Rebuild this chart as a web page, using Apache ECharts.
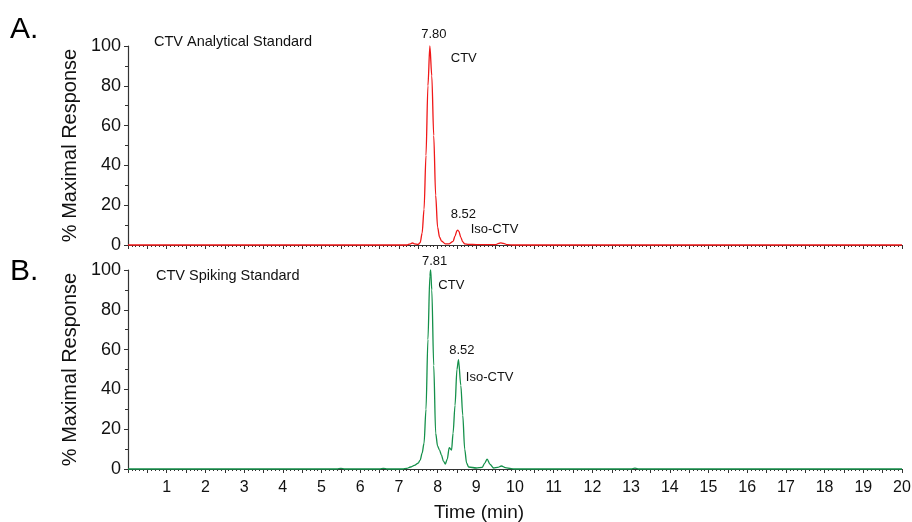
<!DOCTYPE html>
<html>
<head>
<meta charset="utf-8">
<script src="https://cdn.jsdelivr.net/npm/echarts@6/dist/echarts.min.js"></script>
<style>
  html, body { margin: 0; padding: 0; background: #fff; }
  #chart { width: 912px; height: 522px; }
</style>
</head>
<body>
<div id="chart"></div>
<script>
// 色谱数据 [time (min), % response]
var analyticalTrace = [
  [0, 0], [7.2, 0], [7.3, 0.6], [7.35, 1.0], [7.4, 0.6], [7.5, 0.3], [7.55, 1.2],
  [7.6, 6], [7.65, 18], [7.7, 45], [7.75, 80], [7.8, 100], [7.85, 85], [7.9, 55],
  [7.95, 25], [8.0, 9], [8.05, 4], [8.1, 2], [8.2, 0.6], [8.3, 0.6], [8.4, 1.8],
  [8.45, 4.5], [8.5, 7.2], [8.52, 7.5], [8.55, 6.8], [8.6, 3.8], [8.65, 1.6],
  [8.7, 0.6], [8.8, 0.3], [9.0, 0.2], [9.5, 0.2], [9.58, 0.8], [9.63, 1.1],
  [9.7, 0.8], [9.8, 0.2], [10, 0], [20, 0]
];
var spikingTrace = [
  [0, 0], [5.4, 0], [5.5, 0.3], [5.6, 0], [6.5, 0], [6.6, 0.3], [6.7, 0], [7.1, 0],
  [7.2, 0.3], [7.3, 1], [7.4, 1.8], [7.5, 3], [7.55, 4.5], [7.6, 8], [7.65, 13],
  [7.7, 30], [7.75, 65], [7.8, 97], [7.82, 100], [7.85, 90], [7.9, 52], [7.95, 18],
  [8.0, 11.5], [8.05, 9.5], [8.1, 7], [8.15, 4], [8.2, 2.5], [8.25, 5], [8.3, 10.7],
  [8.36, 9.5], [8.4, 18], [8.45, 32], [8.5, 50], [8.54, 55], [8.6, 42], [8.65, 27],
  [8.7, 10], [8.75, 3], [8.8, 1], [9.0, 0.5], [9.15, 0.8], [9.22, 3], [9.28, 5],
  [9.35, 2.5], [9.45, 0.5], [9.55, 0.8], [9.65, 1.5], [9.75, 0.7], [9.9, 0.2],
  [10, 0], [13.0, 0], [13.1, 0.4], [13.2, 0], [20, 0]
];
// 峰顶保留时间 [time, %, text]
var analyticalApex = [7.80, 100, '7.80'];
var spikingApex = [7.82, 100, '7.81'];
// 注释 [time, %, text]
var analyticalNotes = [[8.34, 94, 'CTV'], [8.34, 15.4, '8.52'], [8.855, 7.9, 'Iso-CTV']];
var spikingNotes = [[8.02, 92.5, 'CTV'], [8.30, 59.8, '8.52'], [8.73, 45.9, 'Iso-CTV']];
var yTicks = [0, 20, 40, 60, 80, 100];
var xRange = [0, 20];

var FONT = 'Liberation Sans, Arial, sans-serif';
var AXIS_COLOR = '#333';

function xAxis(gridIndex, showLabels) {
  return {
    type: 'value', gridIndex: gridIndex, min: xRange[0], max: xRange[1], interval: 0.5,
    axisLine: { show: true, onZero: false, lineStyle: { color: AXIS_COLOR, width: 1 } },
    axisTick: { show: true, length: 4, lineStyle: { color: AXIS_COLOR } },
    minorTick: { show: true, splitNumber: 5, length: 2, lineStyle: { color: AXIS_COLOR } },
    splitLine: { show: false },
    axisLabel: {
      show: showLabels, color: '#111', fontSize: 16, fontFamily: FONT, margin: 11,
      formatter: function (v) { return (v % 1 === 0 && v > 0) ? String(v) : ''; }
    },
    name: showLabels ? 'Time (min)' : '', nameLocation: 'middle', nameGap: 34,
    nameTextStyle: { color: '#111', fontSize: 19, fontFamily: FONT, padding: [0, 72, 0, 0] }
  };
}

function yAxis(gridIndex) {
  return {
    type: 'value', gridIndex: gridIndex, min: yTicks[0], max: yTicks[yTicks.length - 1], interval: 20,
    axisLine: { show: true, lineStyle: { color: AXIS_COLOR, width: 1.2 } },
    axisTick: { show: true, length: 4, lineStyle: { color: AXIS_COLOR } },
    minorTick: { show: true, splitNumber: 2, length: 3, lineStyle: { color: AXIS_COLOR } },
    splitLine: { show: false },
    axisLabel: { color: '#111', fontSize: 18, fontFamily: FONT, margin: 7 },
    name: '% Maximal Response', nameLocation: 'middle', nameGap: 44,
    nameTextStyle: { color: '#111', fontSize: 20, fontFamily: FONT }
  };
}

function notes(list, apex, apexDist) {
  var label = { color: '#111', fontSize: 13, fontFamily: FONT };
  var data = list.map(function (n) {
    return {
      coord: [n[0], n[1]],
      label: Object.assign({ show: true, position: 'right', distance: 0, formatter: n[2] }, label)
    };
  });
  data.push({
    coord: [apex[0], apex[1]],
    label: Object.assign({ show: true, position: 'top', distance: apexDist, offset: [4, 0], formatter: apex[2] }, label)
  });
  return { symbol: 'rect', symbolSize: 0, silent: true, data: data };
}

function trace(data, idx, color, noteList, apex, apexDist) {
  return {
    type: 'line', xAxisIndex: idx, yAxisIndex: idx, data: data,
    showSymbol: false, smooth: 0.3, smoothMonotone: 'x', clip: false,
    lineStyle: { color: color, width: 1.3 }, itemStyle: { color: color },
    markPoint: notes(noteList, apex, apexDist)
  };
}

var chart = echarts.init(document.getElementById('chart'), null, { renderer: 'canvas' });
chart.setOption({
  animation: false,
  backgroundColor: '#fff',
  grid: [
    { left: 128, right: 10, top: 46, height: 199, outerBoundsMode: 'none', containLabel: false },
    { left: 128, right: 10, top: 270, height: 199, outerBoundsMode: 'none', containLabel: false }
  ],
  title: [
    { text: 'A.', left: 5, top: 10, textStyle: { fontSize: 30, fontWeight: 'normal', color: '#000', fontFamily: FONT } },
    { text: 'B.', left: 5, top: 252, textStyle: { fontSize: 30, fontWeight: 'normal', color: '#000', fontFamily: FONT } },
    { text: 'CTV Analytical Standard', left: 149, top: 29, textStyle: { fontSize: 14.5, fontWeight: 'normal', color: '#111', fontFamily: FONT } },
    { text: 'CTV Spiking Standard', left: 151, top: 263, textStyle: { fontSize: 14.5, fontWeight: 'normal', color: '#111', fontFamily: FONT } }
  ],
  xAxis: [xAxis(0, false), xAxis(1, true)],
  yAxis: [yAxis(0), yAxis(1)],
  series: [
    trace(analyticalTrace, 0, '#f01818', analyticalNotes, analyticalApex, 5),
    trace(spikingTrace, 1, '#14904a', spikingNotes, spikingApex, 2)
  ]
});
</script>
</body>
</html>
